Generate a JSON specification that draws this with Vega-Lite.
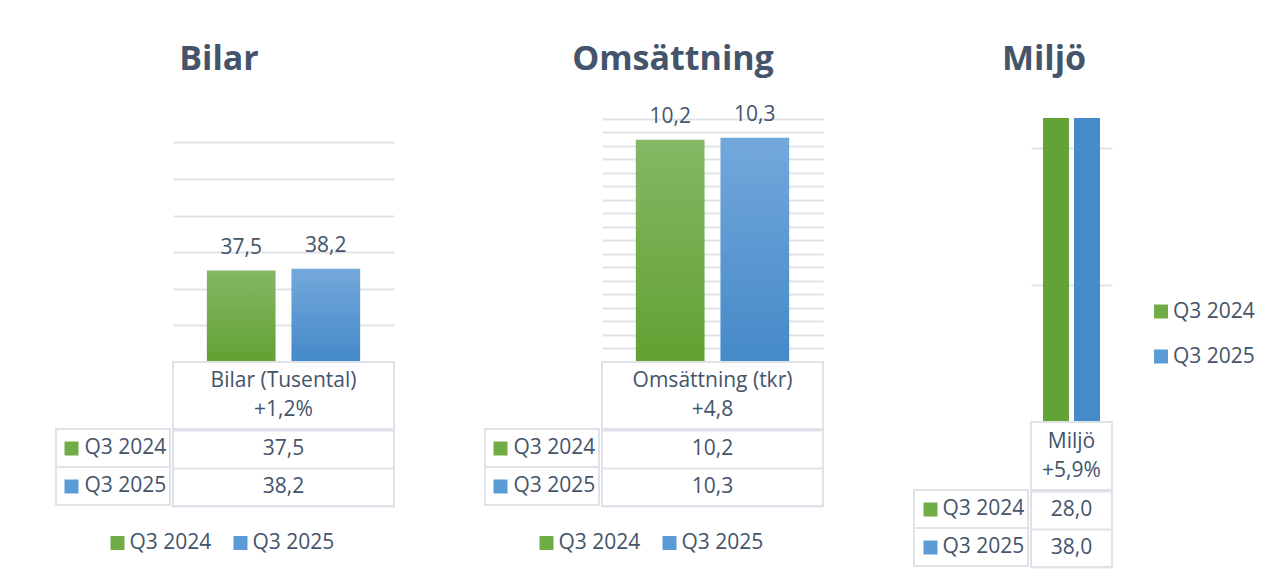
{
  "$schema": "https://vega.github.io/schema/vega-lite/v6.json",
  "padding": {"left": 54, "top": 29, "right": 5, "bottom": 0},
  "background": "white",
  "datasets": {
    "d": [
      {"panel": "Bilar", "series": "Q3 2024", "value": 37.5},
      {"panel": "Bilar", "series": "Q3 2025", "value": 38.2},
      {"panel": "Omsättning", "series": "Q3 2024", "value": 10.2},
      {"panel": "Omsättning", "series": "Q3 2025", "value": 10.3},
      {"panel": "Miljö", "series": "Q3 2024", "value": 28.0},
      {"panel": "Miljö", "series": "Q3 2025", "value": 38.0}
    ],
    "h": [
      {"panel": "Bilar", "lines": ["Bilar (Tusental)", "+1,2%"]},
      {"panel": "Omsättning", "lines": ["Omsättning (tkr)", "+4,8"]},
      {"panel": "Miljö", "lines": ["Miljö", "+5,9%"]}
    ]
  },
  "config": {
    "view": {"stroke": null},
    "font": "Open Sans",
    "locale": {"number": {"decimal": ",", "thousands": " ", "grouping": [3], "currency": ["", " kr"]}},
    "text": {"font": "Open Sans", "fontSize": 21, "color": "#44546a"},
    "axis": {"labelFont": "Open Sans", "labelFontSize": 21, "labelColor": "#44546a"}
  },
  "spacing": 88,
  "resolve": {"scale": {"color": "independent"}, "legend": {"color": "independent"}},
  "hconcat": [
    {
      "spacing": 9,
      "resolve": {"scale": {"color": "independent"}, "legend": {"color": "independent"}},
      "vconcat": [
        {"width": 337, "height": 62, "data": {"name": "h"}, "transform": [{"filter": "datum.panel === 'Bilar'"}], "mark": {"type": "text", "fontSize": 34, "fontWeight": "bold", "dx": -5.5}, "encoding": {"text": {"field": "panel", "type": "nominal"}}},
        {
          "spacing": 0,
          "resolve": {"scale": {"color": "independent"}, "legend": {"color": "independent"}},
          "hconcat": [
            {
              "spacing": 0,
              "vconcat": [
                {"width": 114, "height": 327, "data": {"values": [{"blank": ""}]}, "mark": {"type": "text", "text": ""}},
                {
                  "width": 114, "height": 76,
                  "data": {"name": "d"}, "transform": [{"filter": "datum.panel === 'Bilar'"}],
                  "view": {"stroke": "#dfe3e9", "strokeWidth": 2},
                  "mark": {"type": "rule", "color": "#dfe3e9", "strokeWidth": 2},
                  "encoding": {
                    "y": {"field": "series", "type": "nominal", "bandPosition": 0, "scale": {"type": "band", "paddingInner": 0, "paddingOuter": 0, "domain": ["Q3 2024", "Q3 2025"]}, "axis": {"title": null, "domain": false, "grid": false, "ticks": true, "tickBand": "center", "tickSize": 14, "tickWidth": 14, "tickColor": {"condition": {"test": "datum.value === 'Q3 2024'", "value": "#70ad47"}, "value": "#5b9bd5"}, "offset": -22, "labelAlign": "left", "labelPadding": -20}}
                  }
                }
              ]
            },
            {
              "spacing": -2,
              "vconcat": [
                {
                  "width": 221, "height": 262,
                  "data": {"name": "d"}, "transform": [{"filter": "datum.panel === 'Bilar'"}],
                  "encoding": {
                    "x": {"field": "series", "type": "nominal", "scale": {"type": "band", "domain": ["Q3 2024", "Q3 2025"], "paddingInner": 0.188, "paddingOuter": 0.4}, "axis": null},
                    "y": {"field": "value", "type": "quantitative", "scale": {"domain": [0, 107.4], "nice": false}, "axis": {"values": [15, 30, 45, 60, 75, 90], "title": null, "labels": false, "ticks": false, "domain": false, "grid": true, "gridColor": "#dfe3e9", "gridWidth": 2}}
                  },
                  "layer": [
                    {"transform": [{"filter": "datum.series === 'Q3 2024'"}], "mark": {"type": "bar", "color": {"gradient": "linear", "x1": 0, "y1": 0, "x2": 0, "y2": 1, "stops": [{"offset": 0, "color": "#84b865"}, {"offset": 1, "color": "#62a132"}]}}},
                    {"transform": [{"filter": "datum.series === 'Q3 2025'"}], "mark": {"type": "bar", "color": {"gradient": "linear", "x1": 0, "y1": 0, "x2": 0, "y2": 1, "stops": [{"offset": 0, "color": "#73a8dc"}, {"offset": 1, "color": "#4589c8"}]}}},
                    {"mark": {"type": "text", "baseline": "alphabetic", "dy": -17}, "encoding": {"text": {"field": "value", "type": "quantitative", "format": ".1f"}}}
                  ]
                },
                {
                  "width": 221, "height": 67,
                  "data": {"name": "h"}, "transform": [{"filter": "datum.panel === 'Bilar'"}],
                  "view": {"stroke": "#dfe3e9", "strokeWidth": 2},
                  "mark": {"type": "text", "lineHeight": 29, "dy": -14.5},
                  "encoding": {"text": {"field": "lines", "type": "nominal"}}
                },
                {
                  "width": 221, "height": 76,
                  "data": {"name": "d"}, "transform": [{"filter": "datum.panel === 'Bilar'"}],
                  "view": {"stroke": "#dfe3e9", "strokeWidth": 2},
                  "mark": {"type": "text"},
                  "encoding": {
                    "y": {"field": "series", "type": "nominal", "scale": {"type": "band", "paddingInner": 0, "paddingOuter": 0}, "axis": {"title": null, "labels": false, "ticks": false, "domain": false, "grid": true, "tickBand": "extent", "gridColor": "#dfe3e9", "gridWidth": 2}},
                    "text": {"field": "value", "type": "quantitative", "format": ".1f"}
                  }
                }
              ]
            }
          ]
        },
        {
          "width": 246, "height": 54,
          "data": {"name": "d"}, "transform": [{"filter": "datum.panel === 'Bilar'"}],
          "encoding": {"x": {"field": "series", "type": "nominal", "scale": {"type": "point", "padding": 0.5, "domain": ["Q3 2024", "Q3 2025"]}, "axis": null}},
          "layer": [
            {"mark": {"type": "square", "size": 196, "opacity": 1}, "encoding": {"color": {"field": "series", "type": "nominal", "scale": {"domain": ["Q3 2024", "Q3 2025"], "range": ["#70ad47", "#5b9bd5"]}, "legend": null}}},
            {"mark": {"type": "text", "align": "left", "dx": 12}, "encoding": {"text": {"field": "series", "type": "nominal"}}}
          ]
        }
      ]
    },
    {
      "spacing": 9,
      "resolve": {"scale": {"color": "independent"}, "legend": {"color": "independent"}},
      "vconcat": [
        {"width": 338, "height": 62, "data": {"name": "h"}, "transform": [{"filter": "datum.panel === 'Omsättning'"}], "mark": {"type": "text", "fontSize": 34, "fontWeight": "bold", "dx": 19}, "encoding": {"text": {"field": "panel", "type": "nominal"}}},
        {
          "spacing": 0,
          "resolve": {"scale": {"color": "independent"}, "legend": {"color": "independent"}},
          "hconcat": [
            {
              "spacing": 0,
              "vconcat": [
                {"width": 114, "height": 327, "data": {"values": [{"blank": ""}]}, "mark": {"type": "text", "text": ""}},
                {
                  "width": 114, "height": 76,
                  "data": {"name": "d"}, "transform": [{"filter": "datum.panel === 'Omsättning'"}],
                  "view": {"stroke": "#dfe3e9", "strokeWidth": 2},
                  "mark": {"type": "rule", "color": "#dfe3e9", "strokeWidth": 2},
                  "encoding": {
                    "y": {"field": "series", "type": "nominal", "bandPosition": 0, "scale": {"type": "band", "paddingInner": 0, "paddingOuter": 0, "domain": ["Q3 2024", "Q3 2025"]}, "axis": {"title": null, "domain": false, "grid": false, "ticks": true, "tickBand": "center", "tickSize": 14, "tickWidth": 14, "tickColor": {"condition": {"test": "datum.value === 'Q3 2024'", "value": "#70ad47"}, "value": "#5b9bd5"}, "offset": -22, "labelAlign": "left", "labelPadding": -20}}
                  }
                }
              ]
            },
            {
              "spacing": -2,
              "vconcat": [
                {
                  "width": 221, "height": 262,
                  "data": {"name": "d"}, "transform": [{"filter": "datum.panel === 'Omsättning'"}],
                  "encoding": {
                    "x": {"field": "series", "type": "nominal", "scale": {"type": "band", "domain": ["Q3 2024", "Q3 2025"], "paddingInner": 0.188, "paddingOuter": 0.4}, "axis": null},
                    "y": {"field": "value", "type": "quantitative", "scale": {"domain": [0, 12.03], "nice": false}, "axis": {"values": [0.62, 1.24, 1.86, 2.48, 3.1, 3.72, 4.34, 4.96, 5.58, 6.2, 6.82, 7.44, 8.06, 8.68, 9.3, 9.92, 10.54, 11.16], "title": null, "labels": false, "ticks": false, "domain": false, "grid": true, "gridColor": "#dfe3e9", "gridWidth": 2}}
                  },
                  "layer": [
                    {"transform": [{"filter": "datum.series === 'Q3 2024'"}], "mark": {"type": "bar", "color": {"gradient": "linear", "x1": 0, "y1": 0, "x2": 0, "y2": 1, "stops": [{"offset": 0, "color": "#84b865"}, {"offset": 1, "color": "#62a132"}]}}},
                    {"transform": [{"filter": "datum.series === 'Q3 2025'"}], "mark": {"type": "bar", "color": {"gradient": "linear", "x1": 0, "y1": 0, "x2": 0, "y2": 1, "stops": [{"offset": 0, "color": "#73a8dc"}, {"offset": 1, "color": "#4589c8"}]}}},
                    {"mark": {"type": "text", "baseline": "alphabetic", "dy": -17}, "encoding": {"text": {"field": "value", "type": "quantitative", "format": ".1f"}}}
                  ]
                },
                {
                  "width": 221, "height": 67,
                  "data": {"name": "h"}, "transform": [{"filter": "datum.panel === 'Omsättning'"}],
                  "view": {"stroke": "#dfe3e9", "strokeWidth": 2},
                  "mark": {"type": "text", "lineHeight": 29, "dy": -14.5},
                  "encoding": {"text": {"field": "lines", "type": "nominal"}}
                },
                {
                  "width": 221, "height": 76,
                  "data": {"name": "d"}, "transform": [{"filter": "datum.panel === 'Omsättning'"}],
                  "view": {"stroke": "#dfe3e9", "strokeWidth": 2},
                  "mark": {"type": "text"},
                  "encoding": {
                    "y": {"field": "series", "type": "nominal", "scale": {"type": "band", "paddingInner": 0, "paddingOuter": 0}, "axis": {"title": null, "labels": false, "ticks": false, "domain": false, "grid": true, "tickBand": "extent", "gridColor": "#dfe3e9", "gridWidth": 2}},
                    "text": {"field": "value", "type": "quantitative", "format": ".1f"}
                  }
                }
              ]
            }
          ]
        },
        {
          "width": 246, "height": 54,
          "data": {"name": "d"}, "transform": [{"filter": "datum.panel === 'Omsättning'"}],
          "encoding": {"x": {"field": "series", "type": "nominal", "scale": {"type": "point", "padding": 0.5, "domain": ["Q3 2024", "Q3 2025"]}, "axis": null}},
          "layer": [
            {"mark": {"type": "square", "size": 196, "opacity": 1}, "encoding": {"color": {"field": "series", "type": "nominal", "scale": {"domain": ["Q3 2024", "Q3 2025"], "range": ["#70ad47", "#5b9bd5"]}, "legend": null}}},
            {"mark": {"type": "text", "align": "left", "dx": 12}, "encoding": {"text": {"field": "series", "type": "nominal"}}}
          ]
        }
      ]
    },
    {
      "spacing": 27,
      "resolve": {"scale": {"color": "independent"}, "legend": {"color": "independent"}},
      "vconcat": [
        {"width": 200, "height": 62, "data": {"name": "h"}, "transform": [{"filter": "datum.panel === 'Miljö'"}], "mark": {"type": "text", "fontSize": 34, "fontWeight": "bold", "dx": 30}, "encoding": {"text": {"field": "panel", "type": "nominal"}}},
        {
          "spacing": 41,
          "resolve": {"scale": {"color": "independent"}, "legend": {"color": "independent"}},
          "hconcat": [
            {
              "spacing": 0,
              "resolve": {"scale": {"color": "independent"}, "legend": {"color": "independent"}},
              "hconcat": [
                {
                  "spacing": 0,
                  "vconcat": [
                    {"width": 114, "height": 370, "data": {"values": [{"blank": ""}]}, "mark": {"type": "text", "text": ""}},
                    {
                      "width": 114, "height": 76,
                      "data": {"name": "d"}, "transform": [{"filter": "datum.panel === 'Miljö'"}],
                      "view": {"stroke": "#dfe3e9", "strokeWidth": 2},
                      "mark": {"type": "rule", "color": "#dfe3e9", "strokeWidth": 2},
                      "encoding": {
                        "y": {"field": "series", "type": "nominal", "bandPosition": 0, "scale": {"type": "band", "paddingInner": 0, "paddingOuter": 0, "domain": ["Q3 2024", "Q3 2025"]}, "axis": {"title": null, "domain": false, "grid": false, "ticks": true, "tickBand": "center", "tickSize": 14, "tickWidth": 14, "tickColor": {"condition": {"test": "datum.value === 'Q3 2024'", "value": "#70ad47"}, "value": "#5b9bd5"}, "offset": -23, "labelAlign": "left", "labelPadding": -19}}
                      }
                    }
                  ]
                },
                {
                  "spacing": -2,
                  "vconcat": [
                    {
                      "width": 81, "height": 304,
                      "data": {"name": "d"}, "transform": [{"filter": "datum.panel === 'Miljö'"}],
                      "encoding": {
                        "x": {"field": "series", "type": "nominal", "scale": {"type": "band", "domain": ["Q3 2024", "Q3 2025"], "paddingInner": 0.161, "paddingOuter": 0.387}, "axis": null},
                        "y": {"field": "value", "type": "quantitative", "scale": {"domain": [0, 22.2], "nice": false}, "axis": {"values": [10, 20], "title": null, "labels": false, "ticks": false, "domain": false, "grid": true, "gridColor": "#dfe3e9", "gridWidth": 2}}
                      },
                      "layer": [
                        {"transform": [{"filter": "datum.series === 'Q3 2024'"}], "mark": {"type": "bar", "clip": true, "color": "#63a235"}},
                        {"transform": [{"filter": "datum.series === 'Q3 2025'"}], "mark": {"type": "bar", "clip": true, "color": "#468ac9"}}
                      ]
                    },
                    {
                      "width": 81, "height": 68,
                      "data": {"name": "h"}, "transform": [{"filter": "datum.panel === 'Miljö'"}],
                      "view": {"stroke": "#dfe3e9", "strokeWidth": 2},
                      "mark": {"type": "text", "lineHeight": 29, "dy": -14.5},
                      "encoding": {"text": {"field": "lines", "type": "nominal"}}
                    },
                    {
                      "width": 81, "height": 76,
                      "data": {"name": "d"}, "transform": [{"filter": "datum.panel === 'Miljö'"}],
                      "view": {"stroke": "#dfe3e9", "strokeWidth": 2},
                      "mark": {"type": "text"},
                      "encoding": {
                        "y": {"field": "series", "type": "nominal", "scale": {"type": "band", "paddingInner": 0, "paddingOuter": 0}, "axis": {"title": null, "labels": false, "ticks": false, "domain": false, "grid": true, "tickBand": "extent", "gridColor": "#dfe3e9", "gridWidth": 2}},
                        "text": {"field": "value", "type": "quantitative", "format": ".1f"}
                      }
                    }
                  ]
                }
              ]
            },
            {
              "spacing": 0,
              "resolve": {"scale": {"color": "independent"}, "legend": {"color": "independent"}},
              "vconcat": [
                {"width": 14, "height": 171, "data": {"values": [{"blank": ""}]}, "mark": {"type": "text", "text": ""}},
                {
                  "width": 14, "height": 90,
                  "data": {"name": "d"}, "transform": [{"filter": "datum.panel === 'Miljö'"}],
                  "encoding": {"y": {"field": "series", "type": "nominal", "scale": {"type": "point", "padding": 0.5, "domain": ["Q3 2024", "Q3 2025"]}, "axis": null}},
                  "layer": [
                    {"mark": {"type": "square", "size": 196, "opacity": 1}, "encoding": {"color": {"field": "series", "type": "nominal", "scale": {"domain": ["Q3 2024", "Q3 2025"], "range": ["#70ad47", "#5b9bd5"]}, "legend": null}}},
                    {"mark": {"type": "text", "align": "left", "dx": 12}, "encoding": {"text": {"field": "series", "type": "nominal"}}}
                  ]
                }
              ]
            }
          ]
        }
      ]
    }
  ]
}
